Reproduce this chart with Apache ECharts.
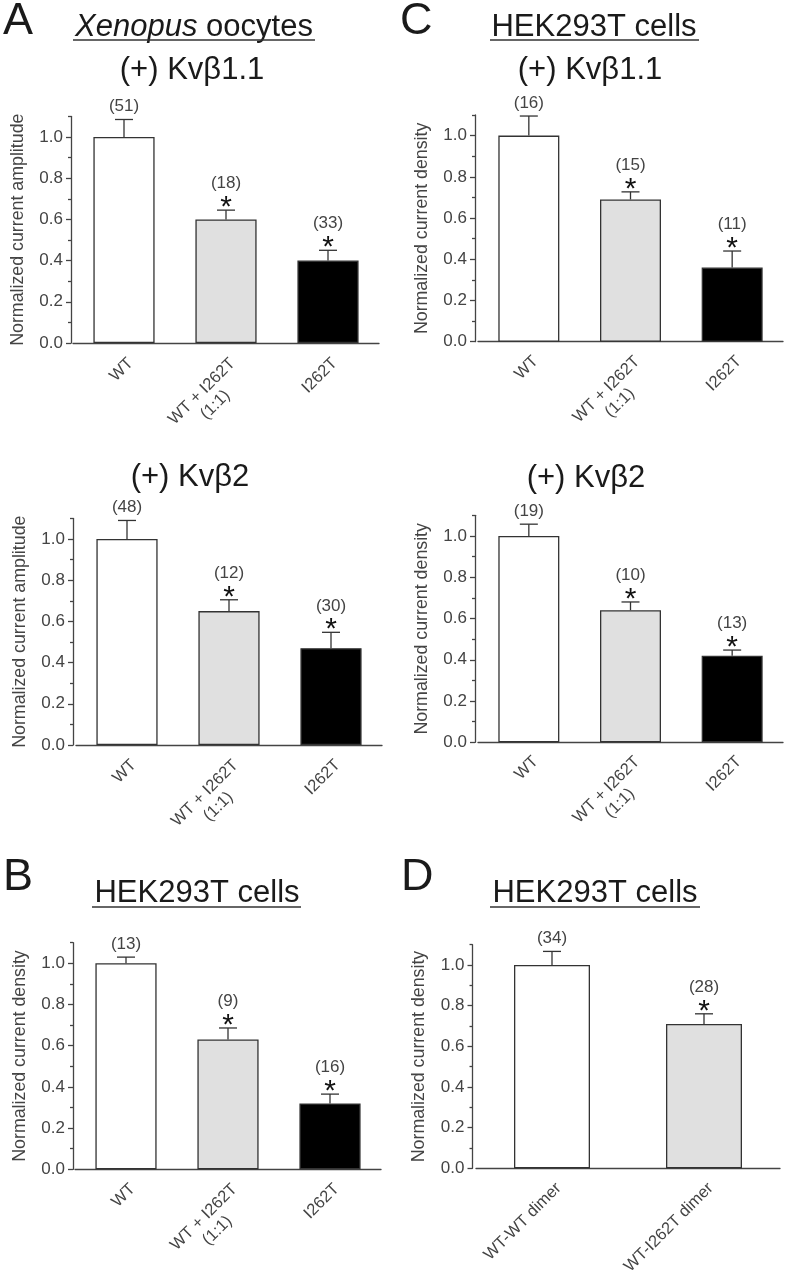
<!DOCTYPE html>
<html>
<head>
<meta charset="utf-8">
<script src="https://cdn.jsdelivr.net/npm/echarts@6/dist/echarts.min.js"></script>
<style>
html,body{margin:0;padding:0;background:#fff;}
#chart{width:787px;height:1282px;}
</style>
</head>
<body>
<div id="chart"></div>
<script>
// ---------- data ----------
const catsThree = ['WT', 'WT + I262T\n(1:1)', 'I262T'];
const catsDimer = ['WT-WT dimer', 'WT-I262T dimer'];

const a1Mean = [1.00, 0.60, 0.40];
const a1Err  = [0.085, 0.045, 0.05];
const a1N    = ['(51)', '(18)', '(33)'];
const a1Sig  = [false, true, true];

const a2Mean = [1.00, 0.65, 0.47];
const a2Err  = [0.09, 0.055, 0.077];
const a2N    = ['(48)', '(12)', '(30)'];
const a2Sig  = [false, true, true];

const c1Mean = [1.00, 0.69, 0.36];
const c1Err  = [0.095, 0.037, 0.08];
const c1N    = ['(16)', '(15)', '(11)'];
const c1Sig  = [false, true, true];

const c2Mean = [1.00, 0.64, 0.42];
const c2Err  = [0.057, 0.04, 0.027];
const c2N    = ['(19)', '(10)', '(13)'];
const c2Sig  = [false, true, true];

const bMean = [1.00, 0.63, 0.32];
const bErr  = [0.03, 0.056, 0.045];
const bN    = ['(13)', '(9)', '(16)'];
const bSig  = [false, true, true];

const dMean = [1.00, 0.71];
const dErr  = [0.067, 0.05];
const dN    = ['(34)', '(28)'];
const dSig  = [false, true];

const yMajorTicks = [0, 0.2, 0.4, 0.6, 0.8, 1.0];
const yMinorTicks = [0.1, 0.3, 0.5, 0.7, 0.9, 1.1];
const barColors = ['#ffffff', '#e0e0e0', '#000000'];

// ---------- layout ----------
const FONT = '"Liberation Sans", Arial, Helvetica, sans-serif';
const AX = '#444';
const panels = [
  {cats: catsThree, mean: a1Mean, err: a1Err, n: a1N, sig: a1Sig, yName: 'Normalized current amplitude',
   grid: {left: 73, top: 116.4, width: 306, height: 226.6}, yOff: 2, xOff: 3, barW: '60%'},
  {cats: catsThree, mean: c1Mean, err: c1Err, n: c1N, sig: c1Sig, yName: 'Normalized current density',
   grid: {left: 478, top: 115, width: 305, height: 226.7}, yOff: 3, xOff: 2.3, barW: '60%'},
  {cats: catsThree, mean: a2Mean, err: a2Err, n: a2N, sig: a2Sig, yName: 'Normalized current amplitude',
   grid: {left: 76, top: 518.4, width: 306, height: 226.6}, yOff: 3, xOff: 2.7, barW: '60%'},
  {cats: catsThree, mean: c2Mean, err: c2Err, n: c2N, sig: c2Sig, yName: 'Normalized current density',
   grid: {left: 478, top: 515.3, width: 305, height: 227}, yOff: 3, xOff: 2, barW: '60%'},
  {cats: catsThree, mean: bMean, err: bErr, n: bN, sig: bSig, yName: 'Normalized current density',
   grid: {left: 75, top: 942.7, width: 306, height: 226.6}, yOff: 2, xOff: 2.4, barW: '60%'},
  {cats: catsDimer, mean: dMean, err: dErr, n: dN, sig: dSig, yName: 'Normalized current density',
   grid: {left: 476, top: 944.7, width: 304, height: 223.6}, yOff: 3.5, xOff: 2.7, barW: '50%'}
];

const grids = [], xAxes = [], yAxes = [], series = [];

function catFormatter(v) {
  const parts = v.split('\n');
  if (parts.length > 1) {
    return parts.map(p => '{c|' + p + '}').join('\n');
  }
  return '{s|' + v + '}';
}

panels.forEach((p, gi) => {
  grids.push(Object.assign({}, p.grid));
  xAxes.push({
    type: 'category', gridIndex: gi, data: p.cats, offset: p.xOff,
    axisLine: {lineStyle: {color: AX, width: 1.3}},
    axisTick: {alignWithLabel: true, length: 5, lineStyle: {color: AX, width: 1.3}},
    axisLabel: {
      interval: 0, rotate: 45, margin: 8, align: 'right', verticalAlign: 'top',
      color: AX, fontFamily: FONT, fontSize: 16.5,
      formatter: catFormatter,
      rich: {
        c: {width: 87, align: 'center', fontSize: 16.5, lineHeight: 19, color: AX, fontFamily: FONT},
        s: {fontSize: 16.5, lineHeight: 19, color: AX, fontFamily: FONT}
      }
    },
    splitLine: {show: false}
  });
  yAxes.push({
    type: 'value', gridIndex: gi, min: 0, max: 1.1, position: 'left', offset: p.yOff,
    name: p.yName, nameLocation: 'middle', nameGap: 44,
    nameTextStyle: {color: AX, fontFamily: FONT, fontSize: 17.8},
    axisLine: {show: true, lineStyle: {color: AX, width: 1.3}},
    axisTick: {show: true, length: 5, customValues: yMajorTicks, lineStyle: {color: AX, width: 1.3}},
    axisLabel: {customValues: yMajorTicks, formatter: v => v.toFixed(1), color: AX,
                fontFamily: FONT, fontSize: 17, margin: 8},
    splitLine: {show: false}
  });
  const minorIdx = yAxes.length;
  yAxes.push({
    type: 'value', gridIndex: gi, min: 0, max: 1.1, position: 'left', offset: p.yOff,
    axisLine: {show: false},
    axisTick: {show: true, length: 3, customValues: yMinorTicks, lineStyle: {color: AX, width: 1.3}},
    axisLabel: {show: false},
    splitLine: {show: false}
  });
  const majorIdx = minorIdx - 1;
  series.push({
    type: 'bar', xAxisIndex: gi, yAxisIndex: majorIdx, barWidth: p.barW,
    data: p.mean.map((m, i) => ({value: m, itemStyle: {color: barColors[i]}})),
    itemStyle: {borderColor: '#333', borderWidth: 1.3},
    emphasis: {disabled: true}, silent: true, animation: false, z: 2
  });
  series.push({
    type: 'custom', xAxisIndex: gi, yAxisIndex: majorIdx, clip: false, silent: true, animation: false, z: 3,
    data: p.mean.map((m, i) => [i, m, p.err[i]]),
    renderItem: function (params, api) {
      const idx = params.dataIndex;
      const x = api.value(0), m = api.value(1), e = api.value(2);
      const p0 = api.coord([x, m]);
      const p1 = api.coord([x, m + e]);
      const st = {stroke: '#333', lineWidth: 1.3};
      const children = [
        {type: 'line', shape: {x1: p0[0], y1: p0[1], x2: p1[0], y2: p1[1]}, style: st},
        {type: 'line', shape: {x1: p1[0] - 9, y1: p1[1], x2: p1[0] + 9, y2: p1[1]}, style: st}
      ];
      const sig = p.sig[idx];
      children.push({type: 'text', x: p1[0], y: p1[1] - (sig ? 26.5 : 12.7),
        style: {text: p.n[idx], fill: AX, font: '17px ' + FONT, align: 'center', verticalAlign: 'middle'}});
      if (sig) {
        children.push({type: 'text', x: p1[0], y: p1[1] - 2.5,
          style: {text: '*', fill: '#111', font: '30px ' + FONT, align: 'center', verticalAlign: 'middle'}});
      }
      return {type: 'group', children: children};
    }
  });
});

function txt(x, y, text, size, extra) {
  return Object.assign({type: 'text', x: x, y: y, silent: true,
    style: Object.assign({text: text, fill: '#1a1a1a', font: size + 'px ' + FONT, align: 'center', verticalAlign: 'middle'}, extra || {})});
}
function uline(x1, x2, y) {
  return {type: 'line', silent: true, shape: {x1: x1, y1: y, x2: x2, y2: y}, style: {stroke: '#333', lineWidth: 1.6}};
}

const graphics = [
  txt(3, 22, 'A', 45, {align: 'left'}),
  txt(400, 22, 'C', 45, {align: 'left'}),
  txt(3, 878, 'B', 45, {align: 'left'}),
  txt(401, 878, 'D', 45, {align: 'left'}),
  txt(194, 27, '{i|Xenopus} oocytes', 31, {rich: {i: {fontStyle: 'italic', font: 'italic 31px ' + FONT, fill: '#1a1a1a'}}}),
  uline(73, 315, 40),
  txt(594, 27, 'HEK293T cells', 31),
  uline(490, 699, 40),
  txt(192, 70, '(+) Kvβ1.1', 31),
  txt(590, 70, '(+) Kvβ1.1', 31),
  txt(190, 477, '(+) Kvβ2', 31),
  txt(586, 478, '(+) Kvβ2', 31),
  txt(197, 893, 'HEK293T cells', 31),
  uline(92, 301, 907),
  txt(595, 893, 'HEK293T cells', 31),
  uline(490, 700, 907)
];

const chart = echarts.init(document.getElementById('chart'), null, {renderer: 'canvas'});
chart.setOption({
  backgroundColor: '#ffffff',
  animation: false,
  grid: grids,
  xAxis: xAxes,
  yAxis: yAxes,
  series: series,
  graphic: graphics
});
</script>
</body>
</html>
